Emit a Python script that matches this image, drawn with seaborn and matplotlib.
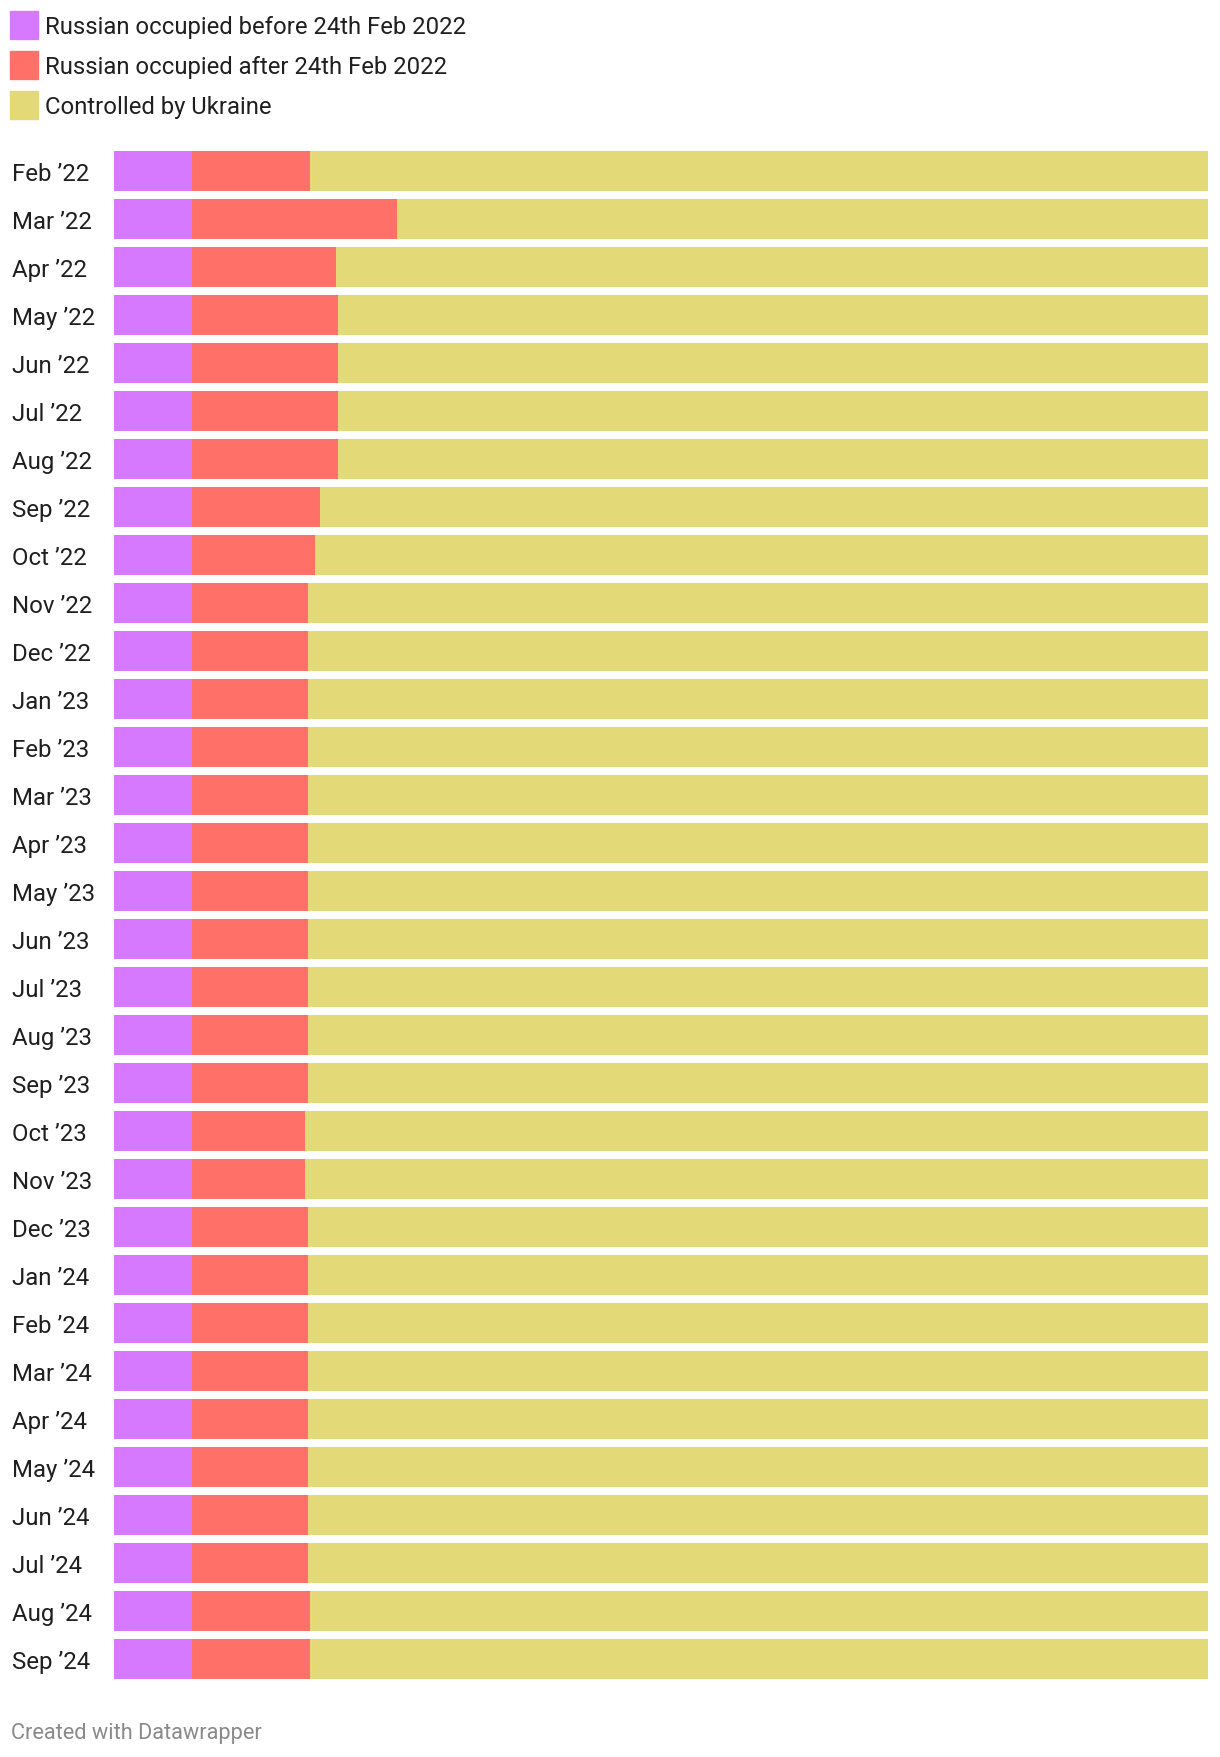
import matplotlib
matplotlib.use("Agg")
import matplotlib.pyplot as plt
import seaborn as sns
import pandas as pd
from matplotlib.patches import Rectangle

# share of Ukraine's territory, percent
months = ["Feb ’22", "Mar ’22", "Apr ’22", "May ’22", "Jun ’22", "Jul ’22", "Aug ’22",
          "Sep ’22", "Oct ’22", "Nov ’22", "Dec ’22", "Jan ’23", "Feb ’23", "Mar ’23",
          "Apr ’23", "May ’23", "Jun ’23", "Jul ’23", "Aug ’23", "Sep ’23", "Oct ’23",
          "Nov ’23", "Dec ’23", "Jan ’24", "Feb ’24", "Mar ’24", "Apr ’24", "May ’24",
          "Jun ’24", "Jul ’24", "Aug ’24", "Sep ’24"]
before = [7.1] * 32
after = [10.8, 18.8, 13.2, 13.4, 13.4, 13.4, 13.4, 11.7, 11.3, 10.6, 10.6, 10.6, 10.6, 10.6,
         10.6, 10.6, 10.6, 10.6, 10.6, 10.6, 10.4, 10.4, 10.6, 10.6, 10.6, 10.6, 10.6, 10.6,
         10.6, 10.6, 10.8, 10.8]
ukraine = [100 - b - a for b, a in zip(before, after)]

series = ["Russian occupied before 24th Feb 2022", "Russian occupied after 24th Feb 2022",
          "Controlled by Ukraine"]
colors = ["#d779fe", "#ff7068", "#e3d977"]

df = pd.DataFrame({"month": months, series[0]: before, series[1]: after, series[2]: ukraine})

sns.set_style("white")
plt.rcParams["font.family"] = ["Roboto", "DejaVu Sans"]

fig = plt.figure(figsize=(12.2, 17.58), dpi=100)
ax = fig.add_axes([114 / 1220, 1 - 1684 / 1758, 1094 / 1220, 1536 / 1758])

# stacked bars: draw cumulative totals from widest to narrowest
cum = df[series].cumsum(axis=1)
for s, c in reversed(list(zip(series, colors))):
    sns.barplot(x=cum[s], y=df["month"], orient="h", color=c, width=40 / 48,
                saturation=1, ax=ax, linewidth=0)

ax.set_xlim(0, 100)
ax.set_ylim(len(months) - 0.5, -0.5)
ax.set_xlabel("")
ax.set_ylabel("")
ax.set_xticks([])
ax.tick_params(axis="y", length=0, pad=73.4, labelsize=17.3, labelcolor="#1f1f1f")
for lbl in ax.get_yticklabels():
    lbl.set_horizontalalignment("left")
sns.despine(ax=ax, left=True, bottom=True)

# legend
for i, (s, c) in enumerate(zip(series, colors)):
    yc = 26 + 40 * i
    fig.patches.append(Rectangle((10 / 1220, 1 - (yc + 14) / 1758), 28 / 1220, 28 / 1758,
                                 transform=fig.transFigure, color=c, figure=fig))
    fig.text(45 / 1220, 1 - (yc - 1) / 1758, s, fontsize=17.2, color="#1f1f1f",
             va="center_baseline")

fig.text(11 / 1220, 1 - 1731 / 1758, "Created with Datawrapper", fontsize=15.7,
         color="#8a8a8a", va="center_baseline")

fig.savefig("out.png", dpi=100)
